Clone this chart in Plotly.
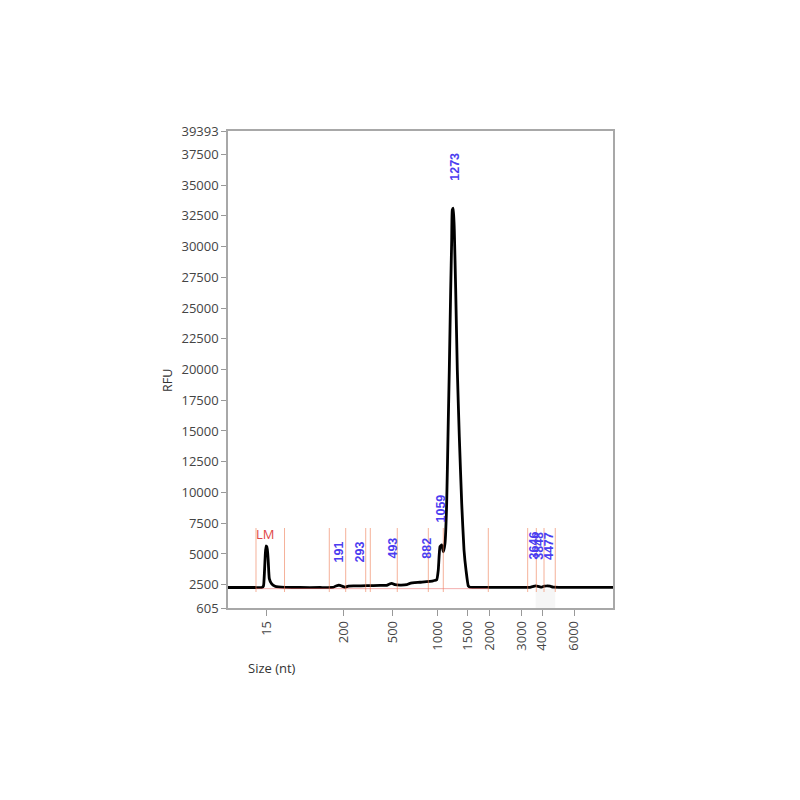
import plotly.graph_objects as go

# Migration position (arbitrary time units, 0-100 across the plot) and signal
migration_time = [0, 3.12, 7.01, 8.83, 9.22, 9.48, 9.69, 9.87, 10.05, 10.21, 10.47, 10.73,
                  11.35, 12.21, 13.06, 14.81, 18.70, 23.90, 27.27, 28.05, 28.57, 29.09,
                  29.61, 30.39, 31.25, 32.99, 36.03, 39.48, 41.22, 41.95, 42.52, 42.99,
                  43.38, 44.68, 46.42, 47.27, 49.87, 53.32, 54.21, 54.62, 55.06, 55.51,
                  55.92, 56.36, 56.80, 57.22, 57.48, 57.84, 58.10, 58.26, 58.52, 58.78,
                  59.14, 59.56, 60.08, 60.70, 61.30, 61.82, 62.42, 62.86, 70.65, 78.44,
                  79.22, 79.87, 80.52, 81.48, 82.15, 82.78, 83.64, 84.42, 86.23, 100]
rfu = [2270, 2270, 2270, 2270, 2400, 3600, 5000, 5650, 5450, 5600, 4300, 3000,
       2560, 2380, 2320, 2280, 2270, 2270, 2280, 2400, 2450, 2440, 2380, 2290,
       2390, 2400, 2420, 2440, 2450, 2560, 2610, 2560, 2500, 2470, 2500, 2610,
       2700, 2820, 2900, 3700, 5590, 5730, 5180, 5870, 9120, 15890, 19960, 26460,
       30530, 32970, 33110, 31340, 26460, 19960, 14530, 9120, 5320, 3690, 2390,
       2290, 2290, 2290, 2350, 2400, 2370, 2300, 2380, 2400, 2380, 2300, 2290, 2290]

# x-axis ladder ticks: size labels at their migration positions
tick_sizes = ["15", "200", "500", "1000", "1500", "2000", "3000", "4000", "6000"]
tick_times = [10.05, 30.1, 42.8, 54.4, 62.2, 67.9, 76.3, 81.6, 89.9]

y_tickvals = [605, 2500, 5000, 7500, 10000, 12500, 15000, 17500, 20000, 22500,
              25000, 27500, 30000, 32500, 35000, 37500, 39393]

# Peak boundaries (migration positions)
boundary_times = [7.27, 14.68, 26.31, 30.57, 35.77, 36.96, 43.97, 52.03, 55.92,
                  67.61, 77.84, 80.08, 82.08, 85.0]
boundary_top = 7110
boundary_bottom = 1906

# Peak labels: size text, position and label height (RFU)
peak_labels = ["191", "293", "493", "882", "1059", "1273", "3646", "3848", "4477"]
peak_times = [28.83, 34.16, 42.86, 51.61, 55.45, 58.88, 79.50, 80.90, 83.40]
peak_label_rfu = [5120, 5160, 5440, 5480, 8735, 36460, 5700, 5700, 5650]

marker_label = "LM"
marker_time = 9.61
marker_rfu = 6620

# layout geometry (screen pixels; page body offsets the figure by 8 px)
OFF = 8
PL, PR, PT, PB = 228, 613, 131, 608


def paper_xy(sx, sy):
    return (sx - PL) / (PR - PL), (PB - sy) / (PB - PT)


fig = go.Figure()

# faint gray region near the high-size peaks
fig.add_shape(type="rect", xref="x", yref="y", x0=79.9, x1=85.0, y0=605, y1=2150,
              fillcolor="#f6f6f6", line_width=0, layer="below")

# baseline (pink)
fig.add_shape(type="line", xref="x", yref="y", x0=boundary_times[0], x1=boundary_times[9],
              y0=2180, y1=2180, line=dict(color="rgba(235,110,110,0.55)", width=1))

for bt in boundary_times:
    fig.add_shape(type="line", xref="x", yref="y", x0=bt, x1=bt,
                  y0=boundary_bottom, y1=boundary_top,
                  line=dict(color="rgba(238,125,85,0.6)", width=1))

fig.add_trace(go.Scatter(x=migration_time, y=rfu, mode="lines",
                         line=dict(color="black", width=2.8, shape="spline", smoothing=0.4),
                         hoverinfo="skip", showlegend=False))

for lab, t, r in zip(peak_labels, peak_times, peak_label_rfu):
    fig.add_annotation(x=t, y=r, xref="x", yref="y", text="<b>" + lab + "</b>",
                       textangle=-90, showarrow=False, xanchor="center", yanchor="middle",
                       font=dict(family="Liberation Sans", size=12.5, color="#4b3cf0"))

fig.add_annotation(x=marker_time, y=marker_rfu, xref="x", yref="y", text=marker_label,
                   showarrow=False, xanchor="center", yanchor="middle",
                   font=dict(family="Open Sans", size=13, color="#e04848"))

sx, sy = paper_xy(272, 668)
fig.add_annotation(x=sx, y=sy, xref="paper", yref="paper", text="Size (nt)",
                   showarrow=False, xanchor="center", yanchor="middle",
                   font=dict(family="Open Sans", size=13, color="#333"))

rx, ry = paper_xy(167, 381)
fig.add_annotation(x=rx, y=ry, xref="paper", yref="paper", text="RFU", textangle=-90,
                   showarrow=False, xanchor="center", yanchor="middle",
                   font=dict(family="Open Sans", size=12.5, color="#333"))

fig.update_layout(
    width=800, height=800,
    margin=dict(l=PL - OFF, r=800 - (PR - OFF), t=PT - OFF, b=800 - (PB - OFF)),
    paper_bgcolor="white", plot_bgcolor="white",
    font=dict(family="Open Sans", size=13, color="#444"),
    showlegend=False,
    xaxis=dict(range=[0, 100], tickvals=tick_times, ticktext=tick_sizes,
               tickangle=-90, ticks="outside", ticklen=6, tickcolor="#999",
               showgrid=False, zeroline=False, showline=True, linecolor="#a8a8a8",
               linewidth=1.5, mirror=True, tickfont=dict(size=13, color="#444")),
    yaxis=dict(range=[605, 39393], tickvals=y_tickvals,
               ticktext=[str(v) for v in y_tickvals],
               ticks="outside", ticklen=5, tickcolor="#999",
               showgrid=False, zeroline=False, showline=True, linecolor="#a8a8a8",
               linewidth=1.5, mirror=True, tickfont=dict(size=13, color="#444")),
)

fig.write_html("out.html")
